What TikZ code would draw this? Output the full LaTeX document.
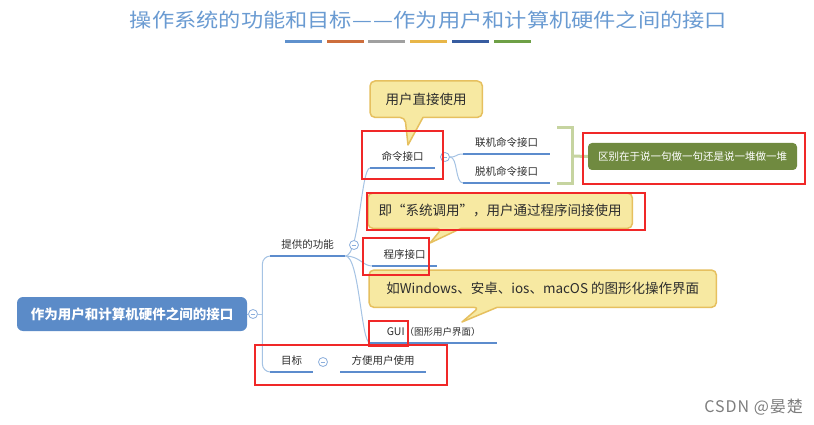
\documentclass[tikz,border=0pt]{standalone}
\usepackage{fontspec}
\newfontfamily\cjk{Noto Sans CJK SC}
\usetikzlibrary{calc}
\definecolor{txt}{RGB}{45,45,45}
\definecolor{titlec}{RGB}{106,155,210}
\definecolor{ulc}{RGB}{92,140,205}
\definecolor{brc}{RGB}{165,195,228}
\definecolor{foldc}{RGB}{140,175,220}
\definecolor{rootc}{RGB}{91,139,200}
\definecolor{cofill}{RGB}{247,233,162}
\definecolor{cobord}{RGB}{230,192,95}
\definecolor{redc}{RGB}{240,40,40}
\definecolor{grn}{RGB}{112,138,64}
\definecolor{brk}{RGB}{198,212,160}
\definecolor{wmc}{RGB}{125,125,125}
\definecolor{barA}{RGB}{95,145,205}
\definecolor{barB}{RGB}{205,110,60}
\definecolor{barC}{RGB}{160,160,160}
\definecolor{barD}{RGB}{232,182,72}
\definecolor{barE}{RGB}{55,92,160}
\definecolor{barF}{RGB}{110,160,70}
\pgfdeclarelayer{bg}
\pgfdeclarelayer{paper}
\pgfsetlayers{paper,bg,main}
\begin{document}
\begin{tikzpicture}[x=1pt,y=-1pt,
  lbl/.style={font=\cjk\fontsize{10.5}{12}\selectfont, text=txt, inner xsep=0pt, inner ysep=5pt, text height=8pt, text depth=2pt, anchor=south west},
  uline/.style={draw=ulc, line width=2.5pt},
  branch/.style={draw=brc, line width=1pt},
  fold/.style={circle, draw=foldc, fill=white, line width=0.8pt, minimum size=9pt, inner sep=0pt,
    path picture={\draw[foldc, line width=0.8pt] ([xshift=-2.3pt]path picture bounding box.center) -- ([xshift=2.3pt]path picture bounding box.center);}},
  cobox/.style={font=\cjk\fontsize{13.5}{16}\selectfont, text=txt, inner sep=0pt, anchor=north west},
  coline/.style={draw=cobord, fill=cofill, line width=1.5pt, line join=round},
  redbox/.style={draw=redc, line width=1.3pt},
  brkline/.style={draw=brk, line width=3pt},
]
\useasboundingbox (0,0) rectangle (814,425);
\begin{pgfonlayer}{paper}
\fill[white] (0,0) rectangle (814,425);
\end{pgfonlayer}

% title and colour bars
\node[font=\cjk\fontsize{19.5}{22}\selectfont, text=titlec, inner sep=0pt] (title) at (428.5,20)
  {\scalebox{1.14}[1]{操作系统的功能和目标{—}\hspace{1.5pt}{—}作为用户和计算机硬件之间的接口}};
\foreach \c/\x in {barA/285,barB/326.5,barC/368,barD/410,barE/451.5,barF/494}
  \fill[\c] (\x,40) rectangle ++(37,3.5);

% root
\node[fill=rootc, rounded corners=6pt, text=white, font=\cjk\bfseries\fontsize{13.5}{16}\selectfont,
  minimum width=230pt, minimum height=34pt, inner sep=0pt] (root) at (132,314) {作为用户和计算机硬件之间的接口};

% labels
\node[lbl, minimum width=75pt] (f1) at (270,256) {提供的功能};
\node[lbl, minimum width=43pt] (g1) at (270,372) {目标};
\node[lbl, minimum width=86pt] (g2) at (340,372) {方便用户使用};
\node[lbl, minimum width=65pt] (cmd) at (370,168) {命令接口};
\node[lbl, minimum width=87pt] (on) at (463,154) {联机命令接口};
\node[lbl, minimum width=87pt] (off) at (463,183) {脱机命令接口};
\node[lbl, minimum width=65pt] (prog) at (372,266) {程序接口};
\node[lbl, minimum width=127pt] (gui) at (370,343) {GUI{\fontsize{9.5}{11}\selectfont（图形用户界面）}};

% underlines
\foreach \n in {f1,g1,g2,cmd,on,off,prog,gui}
  \draw[uline] (\n.south west) -- (\n.south east);

% fold markers
\node[fold] (rc) at (253,314) {};
\node[fold] (f1c) at (354,245) {};
\node[fold] (g1c) at (323,362) {};
\node[fold] (cmdc) at (445,157) {};

% connectors
\begin{pgfonlayer}{bg}
\draw[branch] (root.east) -- (rc.west);
\draw[branch, rounded corners=8pt] (f1.south west) -| ($(rc.east)+(4.5,0)$) |- (g1.south west);
\draw[branch] (rc.east) -- ++(4.5,0);
\draw[branch] (f1.south east) .. controls +(14,0) and +(-9,0) .. (cmd.south west);
\draw[branch] (f1.south east) .. controls +(14,0) and +(-9,0) .. (prog.south west);
\draw[branch] (f1.south east) .. controls +(14,0) and +(-9,0) .. (gui.south west);
\draw[branch] (cmdc.east) .. controls +(8,0) and +(-8,0) .. (on.south west);
\draw[branch] (cmdc.east) .. controls +(8,0) and +(-8,0) .. (off.south west);
\end{pgfonlayer}

% bracket and summary
\node[fill=grn, rounded corners=4pt, text=white, font=\cjk\fontsize{10.5}{12}\selectfont,
  minimum width=209pt, minimum height=27pt, inner sep=0pt] (diff) at (692.5,156.5) {区别在于说一句做一句还是说一堆做一堆};
\draw[brkline] (557,128) -- (572,128) -- (572,183) -- (557,183);
\draw[brkline] (572,156) -- (diff.west);

% callouts
\node[cobox, minimum width=112pt, minimum height=36pt] (c1) at (370,81) {用户直接使用};
\coordinate (c1tip) at (408,145);
\node[cobox, minimum width=264pt, minimum height=35pt] (c2) at (368,193) {即“系统调用”，用户通过程序间接使用};
\coordinate (c2tip) at (430,243);
\node[cobox, minimum width=347pt, minimum height=37pt] (c3) at (369,270) {如Windows、安卓、ios、macOS 的图形化操作界面};
\coordinate (c3tip) at (462,322);
\begin{pgfonlayer}{bg}
\path[coline] ($(c1.south west)+(35,0)$) -- (c1tip) -- ($(c1.south west)+(53,0)$) [rounded corners=5pt]
  -- (c1.south east) -- (c1.north east) -- (c1.north west) -- (c1.south west) -- cycle;
\path[coline] ($(c2.south west)+(74,0)$) -- (c2tip) -- ($(c2.south west)+(93,0)$) [rounded corners=5pt]
  -- (c2.south east) -- (c2.north east) -- (c2.north west) -- (c2.south west) -- cycle;
\path[coline] ($(c3.south west)+(110,0)$) -- (c3tip) -- ($(c3.south west)+(128,0)$) [rounded corners=5pt]
  -- (c3.south east) -- (c3.north east) -- (c3.north west) -- (c3.south west) -- cycle;
\end{pgfonlayer}

% red annotation boxes
\draw[redbox] (362,131) rectangle (443,179);
\draw[redbox] (583,133) rectangle (805,184);
\draw[redbox] (367,193) rectangle (645,230);
\draw[redbox] (363,238) rectangle (429,275);
\draw[redbox] (369,321) rectangle (408,346);
\draw[redbox] (255,345) rectangle (447,385);

% watermark
\node[anchor=east, font=\cjk\fontsize{16}{18}\selectfont, text=wmc, inner sep=0pt] (wm) at (803,407) {\addfontfeatures{LetterSpace=6}CSDN @晏楚};
\end{tikzpicture}
\end{document}
